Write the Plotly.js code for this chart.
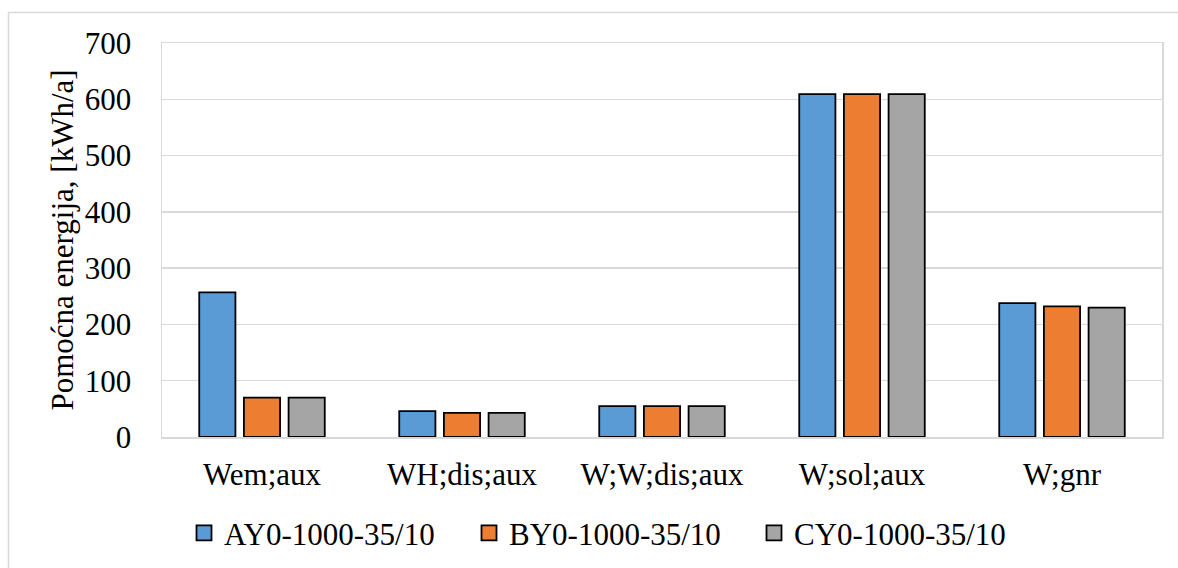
<!DOCTYPE html>
<html>
<head>
<meta charset="utf-8">
<script src="https://cdn.plot.ly/plotly-3.0.1.min.js"></script>
<style>html,body{margin:0;padding:0;background:#fff;}#chart{width:1178px;height:568px;}</style>
</head>
<body>
<div id="chart"></div>
<script>
const categories = ["Wem;aux", "WH;dis;aux", "W;W;dis;aux", "W;sol;aux", "W;gnr"];
const seriesNames = ["AY0-1000-35/10", "BY0-1000-35/10", "CY0-1000-35/10"];
const seriesA = [257, 46, 55, 609, 238];
const seriesB = [70, 43, 55, 609, 232];
const seriesC = [70, 43, 55, 609, 230];
const colors = ["#5B9BD5", "#ED7D31", "#A5A5A5"];
const yTitle = "Pomoćna energija, [kWh/a]";

const FONT = "Liberation Serif";
const allSeries = [seriesA, seriesB, seriesC];
const traces = [];
allSeries.forEach((vals, i) => {
  traces.push({
    type: "bar", x: categories, y: vals, name: seriesNames[i],
    marker: {color: colors[i], line: {color: "#000", width: 1.8}},
    showlegend: false, hoverinfo: "x+y"
  });
});
allSeries.forEach((vals, i) => {
  traces.push({
    type: "scatter", mode: "markers", x: [null], y: [null], name: seriesNames[i],
    marker: {color: colors[i], symbol: "square", size: 15, line: {color: "#000", width: 1.8}},
    showlegend: true, hoverinfo: "skip"
  });
});

const layout = {
  width: 1178, height: 568,
  margin: {l: 162, r: 16, t: 43, b: 131, autoexpand: false},
  paper_bgcolor: "#fff", plot_bgcolor: "#fff",
  font: {family: FONT, size: 31, color: "#000"},
  barmode: "group", bargap: 0.33, bargroupgap: 0.19,
  xaxis: {
    automargin: false,
    showline: true, mirror: true, linecolor: "#d9d9d9", linewidth: 1.5,
    ticks: "", ticklabelstandoff: 9, tickfont: {family: FONT, size: 31, color: "#000"}
  },
  yaxis: {
    automargin: false,
    range: [0, 700], dtick: 100, showline: true, mirror: true, linecolor: "#d9d9d9", linewidth: 1.5,
    gridcolor: "#d9d9d9", gridwidth: 1.5, zeroline: false, ticks: "", ticklabelstandoff: 23,
    tickfont: {family: FONT, size: 31, color: "#000"},
    title: {text: yTitle, font: {family: FONT, size: 31, color: "#000"}, standoff: 2}
  },
  legend: {
    orientation: "h", x: 0.022, xanchor: "left", y: -0.244, yanchor: "middle",
    font: {family: FONT, size: 31, color: "#000"}, entrywidth: 240, entrywidthmode: "pixels",
    itemsizing: "trace", bgcolor: "rgba(0,0,0,0)"
  },
  shapes: [{
    type: "rect", xref: "paper", yref: "paper",
    x0: -0.1535, x1: 1.03, y0: -0.4, y1: 1.0774,
    line: {color: "#d9d9d9", width: 1.5}, fillcolor: "rgba(0,0,0,0)", layer: "below"
  }]
};

Plotly.newPlot("chart", traces, layout, {displayModeBar: false, staticPlot: true});
</script>
</body>
</html>
